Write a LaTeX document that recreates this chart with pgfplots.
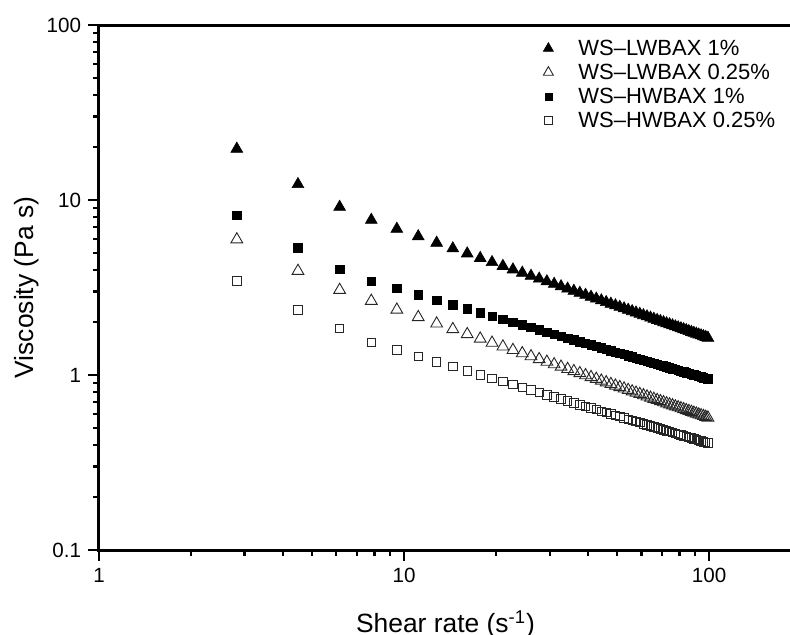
\documentclass[border=0pt]{standalone}
\usepackage{fontspec}
\setmainfont{Liberation Sans}
\usepackage{pgfplots}
\usepackage{pgfplotstable}
\pgfplotsset{compat=1.18}
\pgfplotstableread{
x lwa lwb hwa hwb
2.83 19.6 5.95 8.2 3.44
4.49 12.3 3.93 5.32 2.35
6.15 9.12 3.06 4.03 1.85
7.81 7.69 2.65 3.44 1.54
9.47 6.836 2.359 3.120 1.392
11.13 6.194 2.139 2.875 1.280
12.79 5.690 1.966 2.679 1.190
14.45 5.281 1.827 2.519 1.116
16.11 4.942 1.710 2.384 1.055
17.77 4.655 1.612 2.268 1.002
19.43 4.408 1.527 2.168 0.956
21.09 4.193 1.453 2.080 0.916
22.75 4.003 1.388 2.001 0.881
24.41 3.835 1.330 1.932 0.849
26.07 3.684 1.278 1.868 0.820
27.73 3.548 1.231 1.811 0.794
29.39 3.424 1.189 1.758 0.770
31.05 3.311 1.150 1.710 0.748
32.71 3.207 1.114 1.665 0.728
34.37 3.111 1.081 1.624 0.710
36.03 3.023 1.051 1.586 0.692
37.69 2.941 1.023 1.550 0.676
39.35 2.865 0.996 1.517 0.661
41.01 2.794 0.972 1.485 0.647
42.67 2.727 0.949 1.455 0.634
44.33 2.664 0.927 1.428 0.621
45.99 2.605 0.907 1.401 0.610
47.65 2.549 0.887 1.376 0.598
49.31 2.496 0.869 1.353 0.588
50.97 2.446 0.852 1.330 0.578
52.63 2.399 0.836 1.309 0.568
54.29 2.354 0.820 1.288 0.559
55.95 2.311 0.805 1.269 0.550
57.61 2.270 0.791 1.250 0.542
59.27 2.231 0.778 1.232 0.534
60.93 2.193 0.765 1.215 0.526
62.59 2.158 0.753 1.199 0.519
64.25 2.123 0.741 1.183 0.512
65.91 2.091 0.730 1.168 0.505
67.57 2.059 0.719 1.153 0.498
69.23 2.029 0.708 1.139 0.492
70.89 2.000 0.698 1.126 0.486
72.55 1.972 0.688 1.112 0.480
74.21 1.945 0.679 1.100 0.475
75.87 1.919 0.670 1.087 0.469
77.53 1.893 0.661 1.076 0.464
79.19 1.869 0.653 1.064 0.459
80.85 1.846 0.645 1.053 0.454
82.51 1.823 0.637 1.042 0.449
84.17 1.801 0.629 1.032 0.444
85.83 1.779 0.622 1.022 0.440
87.49 1.759 0.615 1.012 0.436
89.15 1.739 0.608 1.002 0.431
90.81 1.719 0.601 0.993 0.427
92.47 1.700 0.594 0.984 0.423
94.13 1.682 0.588 0.975 0.419
95.79 1.664 0.582 0.966 0.415
97.45 1.647 0.576 0.958 0.412
99.11 1.630 0.570 0.950 0.408
}\datatable
\begin{document}
\begin{tikzpicture}
\useasboundingbox (-49.5pt,-42.5pt) rectangle (345.5pt,275pt);
\begin{axis}[
  at={(0pt,0pt)}, anchor=south west,
  scale only axis,
  width=346.5pt, height=262.5pt,
  xmode=log, ymode=log,
  xmin=1, xmax=187, ymin=0.1, ymax=100,
  axis line style={line width=1.5pt},
  tick style={line width=1.1pt, black},
  tick align=outside,
  tick pos=left,
  major tick length=5.5pt, minor tick length=3pt,
  xtick={1,10,100}, xticklabels={1,10,100},
  ytick={0.1,1,10,100}, yticklabels={0.1,1,10,100},
  ticklabel style={font=\fontsize{10.3}{12}\selectfont},
  xlabel={Shear rate (s\textsuperscript{-1})},
  ylabel={Viscosity (Pa s)},
  label style={font=\fontsize{13.2}{15}\selectfont},
  xlabel style={at={(axis description cs:0.5,-0.1562)}, anchor=base},
  ylabel style={at={(axis description cs:-0.104,0.5)}, anchor=center},
  legend style={draw=none, fill=none, at={(axis description cs:0.632,0.9867)}, anchor=north west,
    font=\fontsize{11}{12}\selectfont, row sep=0pt,
    nodes={text height=8pt, text depth=0.8pt, inner ysep=1.6pt},
    /tikz/every odd column/.append style={column sep=10.5pt}},
  legend image post style={scale=0.85},
  legend cell align=left,
]
\addplot[only marks, mark=triangle*, mark size=3.4pt, mark options={fill=black, draw=black, line width=0.3pt}] table[x=x, y=lwa] {\datatable};
\addlegendentry{WS--LWBAX 1\%}
\addplot[only marks, mark=triangle, mark size=3.4pt, mark options={draw=black!85, line width=0.45pt}] table[x=x, y=lwb] {\datatable};
\addlegendentry{WS--LWBAX 0.25\%}
\addplot[only marks, mark=square*, mark size=2.1pt, mark options={fill=black, draw=black, line width=0.3pt}] table[x=x, y=hwa] {\datatable};
\addlegendentry{WS--HWBAX 1\%}
\addplot[only marks, mark=square, mark size=2.1pt, mark options={draw=black!85, line width=0.45pt}] table[x=x, y=hwb] {\datatable};
\addlegendentry{WS--HWBAX 0.25\%}
\end{axis}
\end{tikzpicture}
\end{document}
